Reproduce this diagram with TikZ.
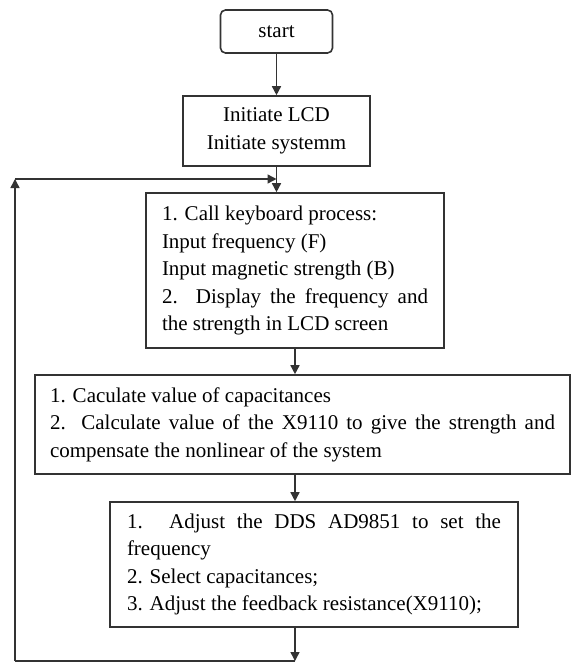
\documentclass[tikz,border=0pt]{standalone}
\usepackage{fontspec}
\setmainfont{Liberation Serif}
\usetikzlibrary{arrows.meta}

\begin{document}
\begin{tikzpicture}[x=1pt, y=-1pt, line width=1.5pt, color=black!80,
    >={Triangle[length=9pt, width=9pt]},
    box/.style={rectangle, draw=black!80, line width=1.6pt, inner sep=0pt, text=black,
      font=\fontsize{21}{27.5}\selectfont}]
      \useasboundingbox (0,0) rectangle (571,663);

      % Nodes
      \node[box, rounded corners=5pt, minimum width=112pt, minimum height=43pt] at (276.5, 31.5) (start) {start};
      \node[box, minimum width=187pt, minimum height=70pt, align=center] at (276.5, 131) (init) {Initiate LCD\\Initiate systemm};
      \node[box, minimum width=298pt, minimum height=155pt, text width=266pt, align=justify] at (295, 270.5) (keyb) {1. Call keyboard process:\\
        Input frequency (F)\\
        Input magnetic strength (B)\\
        2. Display the frequency and\linebreak the strength in LCD screen};
      \node[box, minimum width=535pt, minimum height=99pt, text width=505pt, align=justify] at (302.5, 424.5) (calc) {1. Caculate value of capacitances\\
        2. Calculate value of the X9110 to give the strength and\linebreak compensate the nonlinear of the system};
      \node[box, minimum width=408pt, minimum height=125pt, text width=374pt, align=justify] at (314, 564.5) (act) {1. Adjust the DDS AD9851 to set the\linebreak frequency\\
        2. Select capacitances;\\
        3. Adjust the feedback resistance(X9110);};

      \coordinate (corner) at (15, 661);
      \coordinate (top) at (15, 179);
      \coordinate (join) at (276.5, 179);

      \draw[->] (start) -- (init);
      \draw[->] (init.south) -- (init.south |- keyb.north);
      \draw[->] (keyb.south) -- (keyb.south |- calc.north);
      \draw[->] (keyb.south |- calc.south) -- (keyb.south |- act.north);
      \draw[->] (keyb.south |- act.south) -- (keyb.south |- corner);

      % Loop back
      \draw (keyb.south |- corner) -- (corner);
      \draw[->] (corner) -- (top);
      \draw[->] (top) -- (join);
    \end{tikzpicture}
\end{document}
